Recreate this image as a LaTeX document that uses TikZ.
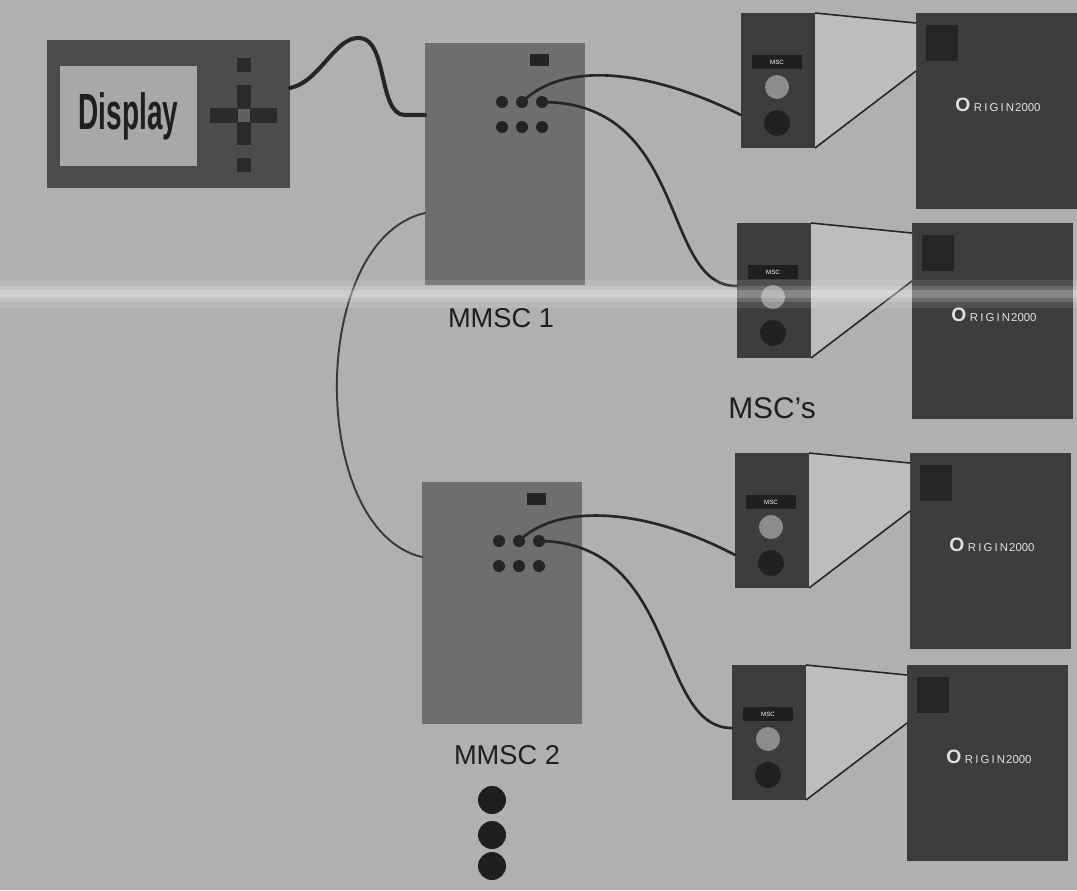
\documentclass[tikz,border=0pt]{standalone}
\usepackage{fontspec}
\setmainfont{Liberation Sans}
\setsansfont{Liberation Sans}
\newfontfamily\dispfont[FakeStretch=0.55]{Liberation Sans}

\definecolor{bggray}{gray}{0.69}
\definecolor{dispgray}{gray}{0.30}
\definecolor{screengray}{gray}{0.66}
\definecolor{keygray}{gray}{0.17}
\definecolor{mmscgray}{gray}{0.43}
\definecolor{portgray}{gray}{0.14}
\definecolor{unitgray}{gray}{0.24}
\definecolor{sqgray}{gray}{0.15}
\definecolor{lampgray}{gray}{0.55}
\definecolor{knobgray}{gray}{0.13}
\definecolor{zoomgray}{gray}{0.74}
\definecolor{cablegray}{gray}{0.15}
\definecolor{inkgray}{gray}{0.12}
\definecolor{logogray}{gray}{0.88}

\tikzset{
  box/.style={anchor=north west, inner sep=0pt, outer sep=0pt},
  port/.style={circle, fill=portgray, inner sep=0pt, minimum size=0.24cm},
  cable/.style={draw=cablegray, line width=1.5pt, line cap=round},
}

\begin{document}
\begin{tikzpicture}[x=0.02cm, y=-0.02cm, line width=0.5pt, font=\sffamily]
  \def\px{0.02cm}
  \fill[bggray] (0,0) rectangle (1077,890);
  \useasboundingbox (0,0) rectangle (1077,890);

  % display
  \node[box, fill=dispgray, minimum width=243*\px, minimum height=148*\px] (disp) at (47,40) {};
  \node[box, fill=screengray, minimum width=137*\px, minimum height=100*\px, text=inkgray,
        font=\dispfont\bfseries\fontsize{29pt}{29pt}\selectfont] (screen) at (60,66) {Display};
  \fill[keygray] (210,108) rectangle (277,123);
  \fill[keygray] (237,85) rectangle (251,145);
  \fill[keygray] (237,58) rectangle (251,72);
  \fill[keygray] (237,158) rectangle (251,172);
  \fill[gray!75!black] (238,109) rectangle (250,122);
  \coordinate (disp-out) at (290,88);

  % MMSC units
  \foreach \m/\mx/\my in {1/425/43, 2/422/482} {
    \begin{scope}[shift={(\mx,\my)}]
      \node[box, fill=mmscgray, minimum width=160*\px, minimum height=242*\px] (mmsc\m) at (0,0) {};
      \fill[portgray] (105,11) rectangle (124,23);
      \foreach \c in {1,2,3} {
        \node[port] (mmsc\m-a\c) at ({57+20*\c},59) {};
        \node[port] (mmsc\m-b\c) at ({57+20*\c},84) {};
      }
    \end{scope}
  }
  \coordinate (mmsc1-in) at (425,115);
  \coordinate (mmsc1-link) at (425,213);
  \coordinate (mmsc2-link) at (422,557);

  % MSC units with their Origin servers
  \foreach \i/\mx/\my in {1/741/13, 2/737/223, 3/735/453, 4/732/665} {
    \begin{scope}[shift={(\mx,\my)}]
      \node[box, fill=unitgray, minimum width=74*\px, minimum height=135*\px] (msc\i) at (0,0) {};
      \node[box, fill=unitgray, minimum width=161*\px, minimum height=196*\px] (org\i) at (175,0) {};
      \coordinate (org\i-a) at (175,10);
      \coordinate (org\i-b) at (175,58);
      \coordinate (msc\i-hi) at (0,63);
      \coordinate (msc\i-lo) at (0,102);
      \fill[zoomgray] (msc\i.north east) -- (org\i-a) -- (org\i-b) -- (msc\i.south east) -- cycle;
      \draw[cablegray, line width=0.9pt] (msc\i.north east) -- (org\i-a);
      \draw[cablegray, line width=0.9pt] (msc\i.south east) -- (org\i-b);
      \node[box, fill=black!88, minimum width=50*\px, minimum height=14*\px, text=white,
            font=\fontsize{3.5pt}{4pt}\selectfont] (msc\i-tag) at (11,42) {MSC};
      \fill[lampgray] (36,74) circle[radius=0.24cm];
      \fill[knobgray] (36,110) circle[radius=0.26cm];
      \fill[sqgray] (185,12) rectangle (217,48);
      \node[text=logogray, inner sep=0pt] (org\i-name) at (257,92)
        {{\fontsize{11pt}{11pt}\selectfont\bfseries O}\kern2pt{\fontsize{6.5pt}{7pt}\selectfont R\kern1.2pt I\kern1.2pt G\kern1.2pt I\kern1.2pt N\kern0.6pt 2000}};
    \end{scope}
  }

  % cables
  \draw[cable, line width=2.3pt] (disp-out) .. controls (320,82) and (335,36) .. (360,38)
    .. controls (388,40) and (378,115) .. (405,115) -- (mmsc1-in);
  \draw[cable, draw=gray!45!black, line width=1.1pt] (mmsc1-link) .. controls (308,240) and (308,530) .. (mmsc2-link);
  \draw[cable] (mmsc1-a2.center) .. controls (565,60) and (650,70) .. (msc1-lo);
  \draw[cable] (mmsc1-a3.center) .. controls (690,102) and (660,287) .. (msc2-hi);
  \draw[cable] (mmsc2-a2.center) .. controls (555,505) and (640,505) .. (msc3-lo);
  \draw[cable] (mmsc2-a3.center) .. controls (680,542) and (655,728) .. (msc4-hi);

  % labels
  \node[text=inkgray, font=\fontsize{15.5pt}{16pt}\selectfont] (mmsc1-label) at (501,318) {MMSC 1};
  \node[text=inkgray, font=\fontsize{15.5pt}{16pt}\selectfont] (mmsc2-label) at (507,755) {MMSC 2};
  \node[text=inkgray, font=\fontsize{17pt}{18pt}\selectfont] (msc-label) at (772,408) {MSC's};
  \foreach \k/\yy in {1/800, 2/835, 3/866}
    \node[circle, fill=inkgray, inner sep=0pt, minimum size=0.56cm] (more\k) at (492,\yy) {};

  % light streak
  \fill[white, opacity=0.10] (0,280) rectangle (1077,308);
  \fill[white, opacity=0.15] (0,286) rectangle (1077,302);
  \fill[white, opacity=0.20] (0,290) rectangle (1077,298);
\end{tikzpicture}
\end{document}
